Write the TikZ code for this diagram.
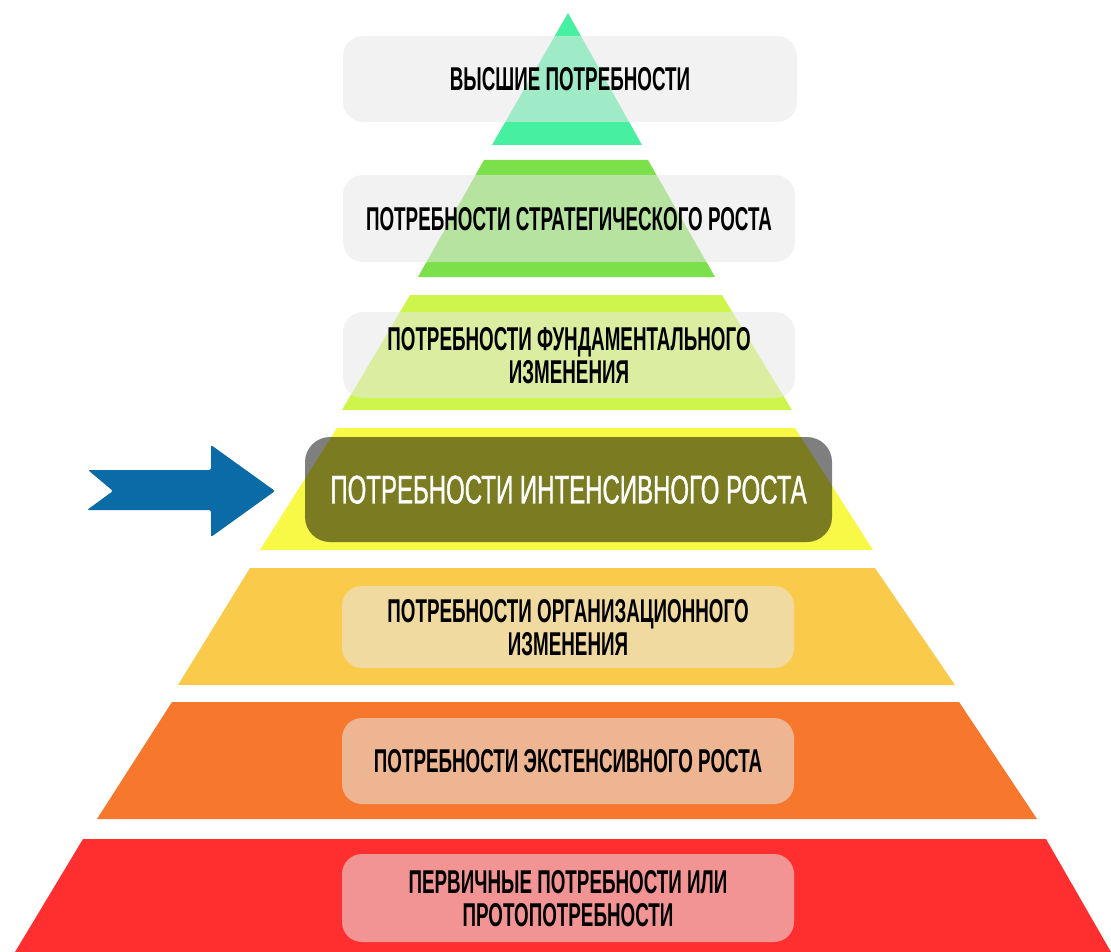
\documentclass[tikz,border=0pt]{standalone}
\usepackage{fontspec}
\newfontfamily\pyrfont{Liberation Sans}[FakeStretch=0.57]
\newfontfamily\focusfont{Liberation Sans}[FakeStretch=0.6, FakeBold=0.9]

\definecolor{tierone}{HTML}{47EFA0}
\definecolor{tiertwo}{HTML}{7BE04A}
\definecolor{tierthree}{HTML}{CDF54B}
\definecolor{tierfour}{HTML}{F8F846}
\definecolor{tierfive}{HTML}{FACA4A}
\definecolor{tiersix}{HTML}{F7782D}
\definecolor{tierseven}{HTML}{FF2F2F}
\definecolor{pointerblue}{HTML}{0B6BA6}
\definecolor{boxgrey}{HTML}{E8E8E8}

\begin{document}
\begin{tikzpicture}[x=1pt, y=-1pt,
  labelbox/.style={rounded corners=20pt, fill=boxgrey, fill opacity=0.55,
    text opacity=1, text=black, align=center, inner sep=0pt,
    minimum width=452pt, minimum height=86pt, text depth=0pt,
    font=\pyrfont\bfseries\fontsize{33}{33}\selectfont},
  focusbox/.style={rounded corners=25pt, fill=black, fill opacity=0.5,
    text opacity=1, text=white, align=center, inner sep=0pt,
    minimum width=527pt, minimum height=105pt, text depth=0pt,
    font=\focusfont\fontsize{40}{42}\selectfont}]
\useasboundingbox (0,0) rectangle (1111,952);

% pyramid tiers, top to bottom
\fill[tierone]   (568,13)  -- (642,145) -- (492,145) -- cycle;
\fill[tiertwo]   (484,160) -- (648,160) -- (715,277) -- (418,277) -- cycle;
\fill[tierthree] (410,295) -- (722,295) -- (792,410) -- (342,410) -- cycle;
\fill[tierfour]  (337,428) -- (795,428) -- (873,550) -- (260,550) -- cycle;
\fill[tierfive]  (250,568) -- (875,568) -- (955,685) -- (178,685) -- cycle;
\fill[tiersix]   (172,702) -- (959,702) -- (1037,819) -- (97,819) -- cycle;
\fill[tierseven] (83,839)  -- (1046,839) -- (1111,952) -- (15,952) -- cycle;

% labels over the tiers
\node[labelbox, minimum width=454pt] (b1) at (570,79) {ВЫСШИЕ ПОТРЕБНОСТИ};
\node[labelbox, minimum height=87pt] (b2) at (569,218.5) {ПОТРЕБНОСТИ СТРАТЕГИЧЕСКОГО РОСТА};
\node[labelbox] (b3) at (569,355) {ПОТРЕБНОСТИ ФУНДАМЕНТАЛЬНОГО\\ИЗМЕНЕНИЯ};
\node[focusbox] (b4) at (568.5,489.5) {ПОТРЕБНОСТИ ИНТЕНСИВНОГО РОСТА};
\node[labelbox, minimum height=82pt] (b5) at (568,627) {ПОТРЕБНОСТИ ОРГАНИЗАЦИОННОГО\\ИЗМЕНЕНИЯ};
\node[labelbox] (b6) at (568,761) {ПОТРЕБНОСТИ ЭКСТЕНСИВНОГО РОСТА};
\node[labelbox, minimum height=88pt] (b7) at (568,898) {ПЕРВИЧНЫЕ ПОТРЕБНОСТИ ИЛИ\\ПРОТОПОТРЕБНОСТИ};

% pointer with notched tail
\fill[pointerblue, rounded corners=2pt]
  (88,470) -- (211,470) -- (211,445) -- (275,491) -- (211,537)
  -- (211,510) -- (87,510) -- (113,491) -- cycle;
\end{tikzpicture}
\end{document}
